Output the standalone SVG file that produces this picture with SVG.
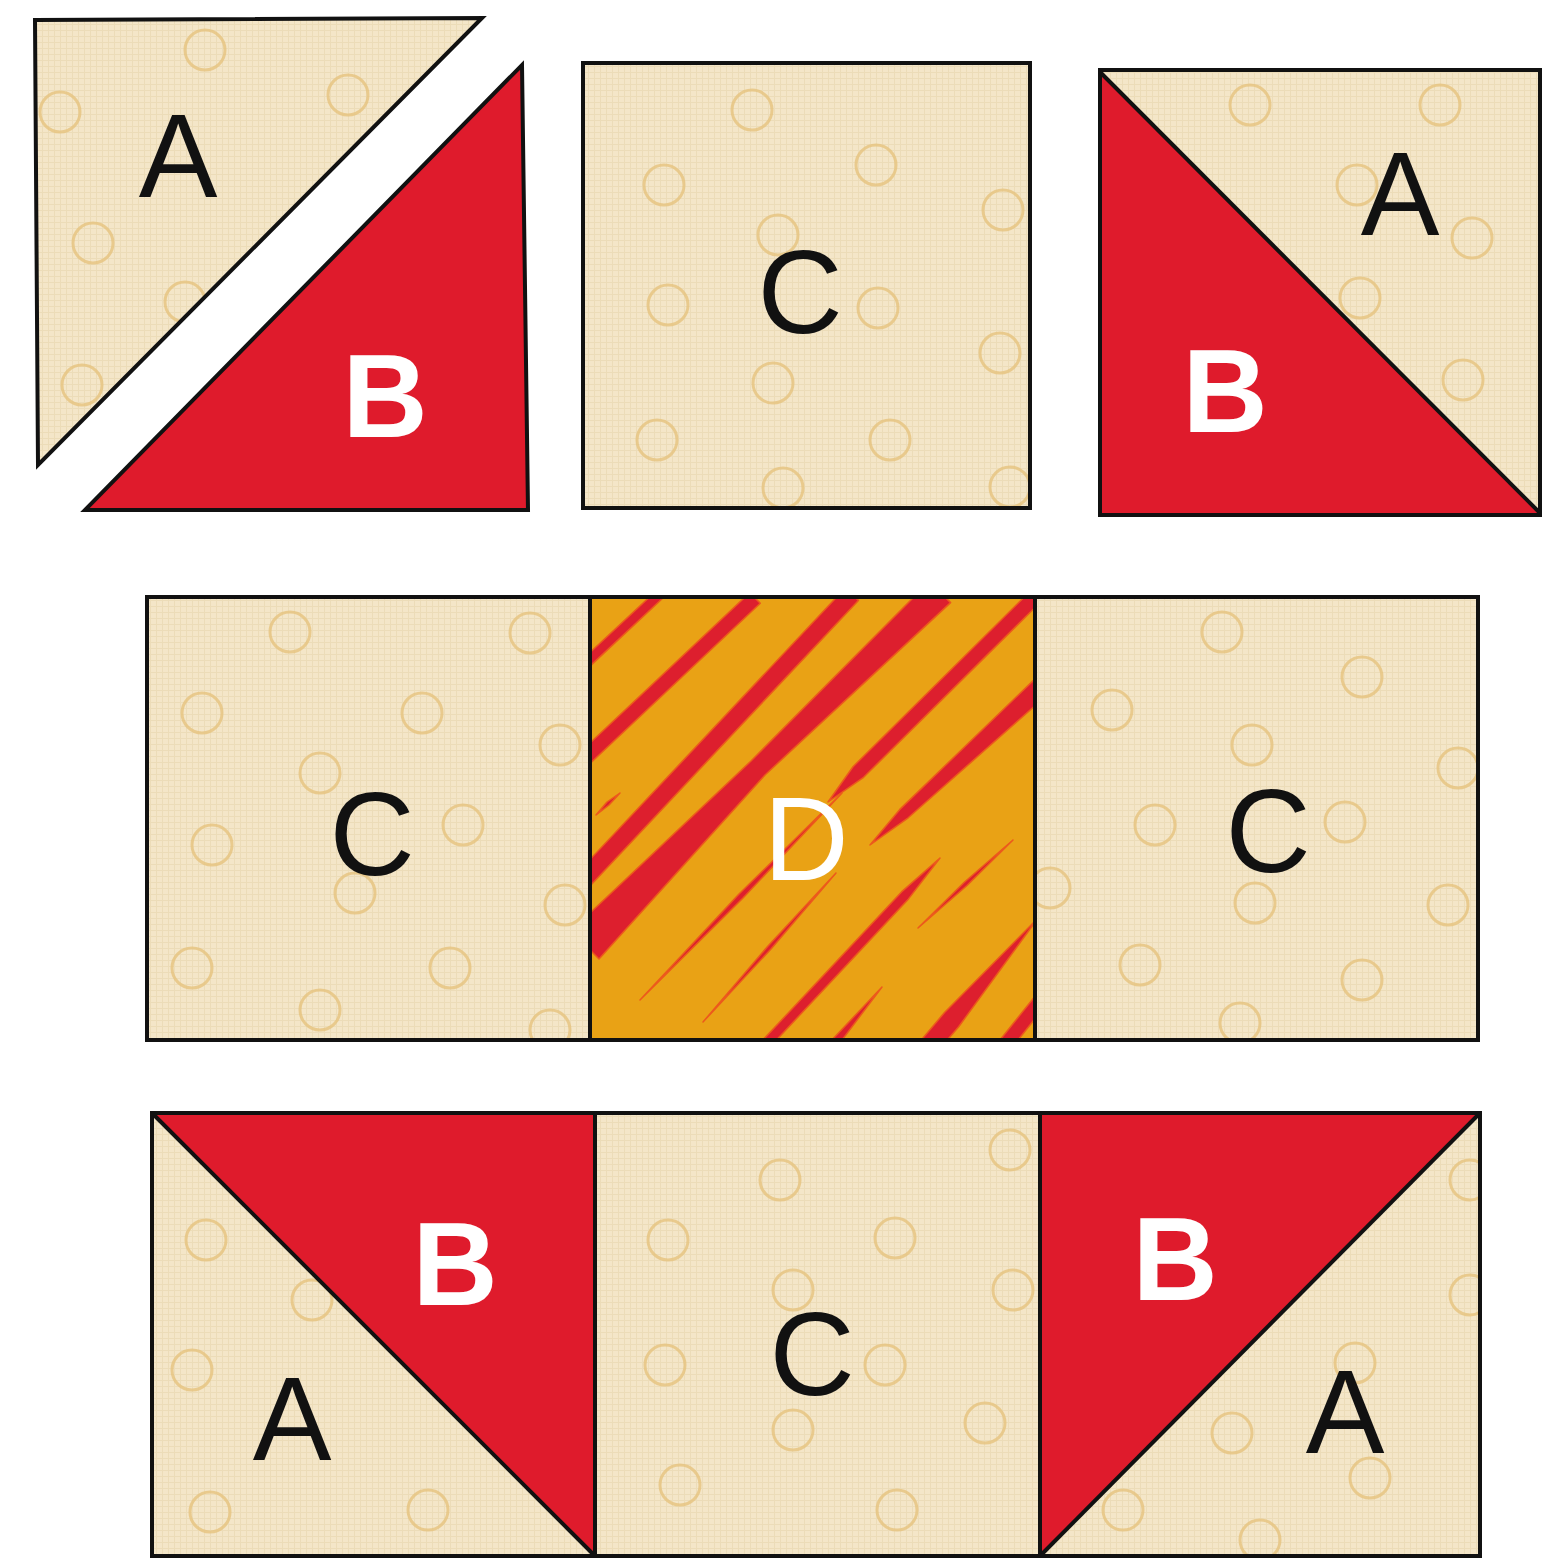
<svg xmlns="http://www.w3.org/2000/svg" width="1544" height="1558" viewBox="0 0 1544 1558">
<style>
.bg{fill:#f4e6c8}
.red{fill:#df1b2c}
.or{fill:#e9a215}
.ln{fill:none;stroke:#111;stroke-width:4;stroke-linejoin:miter}
.dot{fill:none;stroke:#e6c37e;stroke-width:3;opacity:0.8}
.st{fill:#dd1f2e;stroke:#ec5a1c;stroke-width:1.5;stroke-linejoin:round}
.lb{font-family:"Liberation Sans","DejaVu Sans",sans-serif;font-size:118px;text-anchor:middle}
.k{fill:#111}
.w{fill:#fff;font-weight:bold}
.wd{fill:#fff}
</style>
<defs>
<pattern id="grid" width="6" height="6" patternUnits="userSpaceOnUse">
<rect width="6" height="6" fill="#f4e6c8"/>
<path d="M0 0.5H6M0.5 0V6" stroke="#ecdcb8" stroke-width="1"/>
</pattern>
<circle id="c" r="20" class="dot"/>
<clipPath id="cpA1"><polygon points="35,20 482,18 38,465"/></clipPath>
<clipPath id="cpC1"><rect x="583" y="63" width="447" height="445"/></clipPath>
<clipPath id="cpA2"><polygon points="1100,72 1540,70 1540,513"/></clipPath>
<clipPath id="cpC2"><rect x="147" y="597" width="443" height="443"/></clipPath>
<clipPath id="cpD"><rect x="590" y="597" width="445" height="443"/></clipPath>
<clipPath id="cpC3"><rect x="1035" y="597" width="443" height="443"/></clipPath>
<clipPath id="cpA3"><polygon points="152,1113 595,1556 152,1558"/></clipPath>
<clipPath id="cpC4"><rect x="595" y="1113" width="445" height="445"/></clipPath>
<clipPath id="cpA4"><polygon points="1480,1113 1480,1558 1040,1558"/></clipPath>
</defs>
<rect width="1544" height="1558" fill="#fff"/>

<g id="piece-A-top-left">
<polygon points="35,20 482,18 38,465" fill="url(#grid)"/>
<g clip-path="url(#cpA1)">
<use href="#c" x="205" y="50"/><use href="#c" x="60" y="112"/><use href="#c" x="348" y="95"/>
<use href="#c" x="93" y="243"/><use href="#c" x="185" y="302"/><use href="#c" x="82" y="385"/>
</g>
<polygon points="35,20 482,18 38,465" class="ln"/>
<text x="178" y="197" class="lb k">A</text>
</g>

<g id="piece-B-top-left">
<polygon points="522,65 528,510 85,510" class="red"/>
<polygon points="522,65 528,510 85,510" class="ln"/>
<text x="385" y="437" class="lb w">B</text>
</g>

<g id="piece-C-top">
<rect x="583" y="63" width="447" height="445" fill="url(#grid)"/>
<g clip-path="url(#cpC1)">
<use href="#c" x="752" y="110"/><use href="#c" x="664" y="185"/><use href="#c" x="876" y="165"/>
<use href="#c" x="1003" y="210"/><use href="#c" x="778" y="235"/><use href="#c" x="668" y="305"/>
<use href="#c" x="878" y="308"/><use href="#c" x="1000" y="353"/><use href="#c" x="773" y="383"/>
<use href="#c" x="657" y="440"/><use href="#c" x="890" y="440"/><use href="#c" x="783" y="488"/>
<use href="#c" x="1010" y="487"/>
</g>
<rect x="583" y="63" width="447" height="445" class="ln"/>
<text x="800" y="333" class="lb k">C</text>
</g>

<g id="piece-AB-top-right">
<rect x="1100" y="70" width="440" height="445" fill="url(#grid)"/>
<g clip-path="url(#cpA2)">
<use href="#c" x="1250" y="105"/><use href="#c" x="1440" y="105"/><use href="#c" x="1357" y="185"/>
<use href="#c" x="1472" y="238"/><use href="#c" x="1360" y="298"/><use href="#c" x="1463" y="380"/>
</g>
<polygon points="1100,72 1540,513 1102,515" class="red"/>
<rect x="1100" y="70" width="440" height="445" class="ln"/>
<line x1="1100" y1="72" x2="1540" y2="513" class="ln"/>
<text x="1400" y="235" class="lb k">A</text>
<text x="1225" y="432" class="lb w">B</text>
</g>

<g id="piece-C-middle-left">
<rect x="147" y="597" width="443" height="443" fill="url(#grid)"/>
<g clip-path="url(#cpC2)">
<use href="#c" x="290" y="632"/><use href="#c" x="530" y="633"/><use href="#c" x="202" y="713"/>
<use href="#c" x="422" y="713"/><use href="#c" x="560" y="745"/><use href="#c" x="320" y="773"/>
<use href="#c" x="212" y="845"/><use href="#c" x="463" y="825"/><use href="#c" x="355" y="893"/>
<use href="#c" x="192" y="968"/><use href="#c" x="450" y="968"/><use href="#c" x="320" y="1010"/>
<use href="#c" x="565" y="905"/><use href="#c" x="550" y="1030"/>
</g>
<text x="372" y="875" class="lb k">C</text>
</g>

<g id="piece-D">
<rect x="590" y="597" width="445" height="443" class="or"/>
<g clip-path="url(#cpD)" class="st">
<polygon points="588.5,667.5 663.5,597.5 656.5,590.5 581.5,660.5"/>
<polygon points="590.3,763.3 760.3,603.3 749.7,592.7 579.7,752.7"/>
<polygon points="591.4,884.4 858.4,600.4 845.6,587.6 578.6,871.6"/>
<polygon points="571,931 751,761 929.4,581.4 950.6,602.6 765,775 599,959"/>
<polygon points="828,802 863.6,777.3 1045.3,597.3 1034.7,586.7 853,766.7"/>
<polygon points="870,845 908.2,817.8 1047.1,695.1 1032.9,680.9 899.8,809.4"/>
<polygon points="768.5,1048.5 908.5,898.9 940,858 901.5,891.9 761.5,1041.5"/>
<polygon points="918,928 967,885.5 1013,840 964,882.5"/>
<polygon points="937,1052 958.7,1026.7 1038,918 944.5,1012.5 923,1038"/>
<polygon points="1010,1050 1050,1000 1040,990 1000,1040"/>
<polygon points="836,1048 882,987 830,1042"/>
<polygon points="640,1000 743,898 842,793 739,894"/>
<polygon points="703,1022 771,949 836,873 768,946"/>
<polygon points="596,815 609,805 620,793 607,802"/>
</g>
<text x="806" y="880" class="lb wd">D</text>
</g>

<g id="piece-C-middle-right">
<rect x="1035" y="597" width="443" height="443" fill="url(#grid)"/>
<g clip-path="url(#cpC3)">
<use href="#c" x="1222" y="632"/><use href="#c" x="1362" y="677"/><use href="#c" x="1112" y="710"/>
<use href="#c" x="1252" y="745"/><use href="#c" x="1155" y="825"/><use href="#c" x="1345" y="822"/>
<use href="#c" x="1458" y="768"/><use href="#c" x="1255" y="903"/><use href="#c" x="1050" y="888"/>
<use href="#c" x="1140" y="965"/><use href="#c" x="1362" y="980"/><use href="#c" x="1448" y="905"/>
<use href="#c" x="1240" y="1023"/>
</g>
<text x="1268" y="872" class="lb k">C</text>
</g>

<g id="middle-row-outline">
<rect x="147" y="597" width="1331" height="443" class="ln"/>
<line x1="590" y1="597" x2="590" y2="1040" class="ln"/>
<line x1="1035" y1="597" x2="1035" y2="1040" class="ln"/>
</g>

<g id="piece-AB-bottom-left">
<rect x="152" y="1113" width="443" height="445" fill="url(#grid)"/>
<g clip-path="url(#cpA3)">
<use href="#c" x="206" y="1240"/><use href="#c" x="192" y="1370"/><use href="#c" x="312" y="1300"/>
<use href="#c" x="210" y="1512"/><use href="#c" x="428" y="1510"/>
</g>
<polygon points="152,1113 595,1113 595,1556" class="red"/>
<line x1="152" y1="1113" x2="595" y2="1556" class="ln"/>
<text x="455" y="1305" class="lb w">B</text>
<text x="292" y="1460" class="lb k">A</text>
</g>

<g id="piece-C-bottom">
<rect x="595" y="1113" width="445" height="445" fill="url(#grid)"/>
<g clip-path="url(#cpC4)">
<use href="#c" x="780" y="1180"/><use href="#c" x="668" y="1240"/><use href="#c" x="895" y="1238"/>
<use href="#c" x="1010" y="1150"/><use href="#c" x="793" y="1290"/><use href="#c" x="665" y="1365"/>
<use href="#c" x="885" y="1365"/><use href="#c" x="1013" y="1290"/><use href="#c" x="793" y="1430"/>
<use href="#c" x="985" y="1423"/><use href="#c" x="680" y="1485"/><use href="#c" x="897" y="1510"/>
</g>
<text x="812" y="1395" class="lb k">C</text>
</g>

<g id="piece-AB-bottom-right">
<rect x="1040" y="1113" width="440" height="445" fill="url(#grid)"/>
<g clip-path="url(#cpA4)">
<use href="#c" x="1470" y="1180"/><use href="#c" x="1470" y="1295"/><use href="#c" x="1355" y="1363"/>
<use href="#c" x="1232" y="1433"/><use href="#c" x="1370" y="1478"/><use href="#c" x="1123" y="1510"/>
<use href="#c" x="1260" y="1540"/>
</g>
<polygon points="1040,1113 1480,1113 1040,1556" class="red"/>
<line x1="1480" y1="1113" x2="1040" y2="1556" class="ln"/>
<text x="1175" y="1300" class="lb w">B</text>
<text x="1345" y="1453" class="lb k">A</text>
</g>

<g id="bottom-row-outline">
<rect x="152" y="1113" width="1328" height="443" class="ln"/>
<line x1="595" y1="1113" x2="595" y2="1558" class="ln"/>
<line x1="1040" y1="1113" x2="1040" y2="1558" class="ln"/>
</g>
</svg>
